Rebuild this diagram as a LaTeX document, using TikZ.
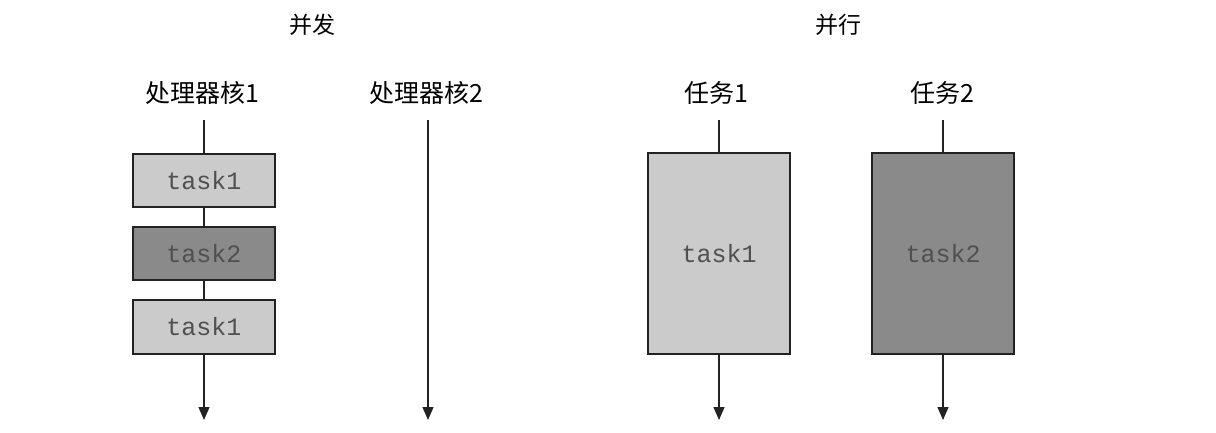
\documentclass[tikz,border=0pt]{standalone}
\usepackage{fontspec}
\newfontfamily\cjk{Noto Sans CJK SC}
\newfontfamily\mono{Liberation Mono}
\usetikzlibrary{arrows.meta}
\definecolor{lightfill}{HTML}{CBCBCB}
\definecolor{darkfill}{HTML}{8A8A8A}
\definecolor{edge}{HTML}{222222}
\definecolor{tasktext}{HTML}{505050}
\begin{document}
\begin{tikzpicture}[x=1pt,y=-1pt,
  taskbox/.style={draw=edge,line width=1.8pt,minimum width=142pt,inner sep=0pt,font=\mono\fontsize{25}{27}\selectfont,text=tasktext},
  lightbox/.style={taskbox,fill=lightfill},
  darkbox/.style={taskbox,fill=darkfill},
  lbl/.style={font=\cjk\fontsize{25}{27}\selectfont,inner sep=0pt},
  ttl/.style={font=\cjk\fontsize{23}{25}\selectfont,inner sep=0pt},
  conn/.style={draw=edge,line width=1.3pt},
  arr/.style={conn,-{Triangle[length=13pt,width=11pt]}}
]
\useasboundingbox (0,0) rectangle (1216,432);
% titles
\node[ttl] (t1) at (312,25) {并发};
\node[ttl] (t2) at (838,25) {并行};
% labels
\node[lbl] (c1) at (202,93) {处理器核1};
\node[lbl] (c2) at (426,93) {处理器核2};
\node[lbl] (r1) at (716,93) {任务1};
\node[lbl] (r2) at (942,93) {任务2};
% concurrency
\coordinate (c1top) at (204,120);
\node[lightbox,minimum height=53pt] (a1) at (204,180.5) {task1};
\node[darkbox,minimum height=53pt] (a2) at (204,253.5) {task2};
\node[lightbox,minimum height=54pt] (a3) at (204,327) {task1};
\coordinate (c1end) at (204,420);
\draw[conn] (c1top) -- (a1.north);
\draw[conn] (a1.south) -- (a2.north);
\draw[conn] (a2.south) -- (a3.north);
\draw[arr] (a3.south) -- (c1end);
\coordinate (c2top) at (428,120);
\coordinate (c2end) at (428,420);
\draw[arr] (c2top) -- (c2end);
% parallel
\coordinate (r1top) at (719,120);
\node[lightbox,minimum height=201pt] (b1) at (719,253.5) {task1};
\coordinate (r1end) at (719,420);
\draw[conn] (r1top) -- (b1.north);
\draw[arr] (b1.south) -- (r1end);
\coordinate (r2top) at (943,120);
\node[darkbox,minimum height=201pt] (b2) at (943,253.5) {task2};
\coordinate (r2end) at (943,420);
\draw[conn] (r2top) -- (b2.north);
\draw[arr] (b2.south) -- (r2end);
\end{tikzpicture}
\end{document}
